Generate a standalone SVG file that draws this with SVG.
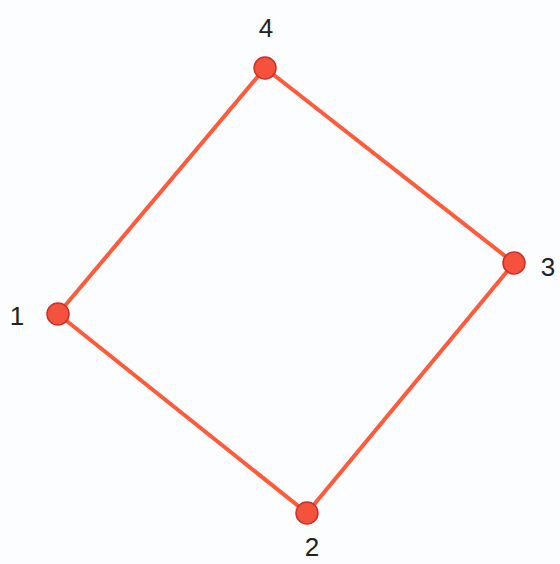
<svg xmlns="http://www.w3.org/2000/svg" width="560" height="564" viewBox="0 0 560 564">
<style>
.e{stroke:#ff5a3a;stroke-width:4;fill:none;stroke-linecap:round}
.n{fill:#f5523e;stroke:#c8302a;stroke-width:1.5}
.t{font-family:"Liberation Sans",Arial,sans-serif;font-size:26px;fill:#222;text-anchor:middle}
</style>
<rect width="560" height="564" fill="#fcfdfe"/>
<g id="connectors">
<line class="e" x1="265" y1="68" x2="514" y2="263"/>
<line class="e" x1="514" y1="263" x2="307" y2="513"/>
<line class="e" x1="307" y1="513" x2="58" y2="314"/>
<line class="e" x1="58" y1="314" x2="265" y2="68"/>
</g>
<g id="n4"><circle class="n" cx="265" cy="68" r="11"/><text class="t" x="266" y="37">4</text></g>
<g id="n3"><circle class="n" cx="514" cy="263" r="11"/><text class="t" x="548" y="276">3</text></g>
<g id="n1"><circle class="n" cx="58" cy="314" r="11"/><text class="t" x="17" y="325">1</text></g>
<g id="n2"><circle class="n" cx="307" cy="513" r="11"/><text class="t" x="312" y="556">2</text></g>
</svg>
